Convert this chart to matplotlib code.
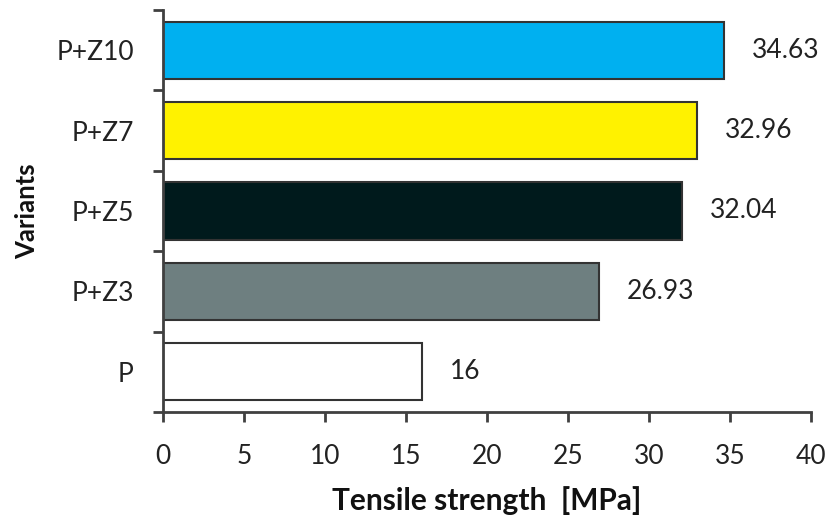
import matplotlib.pyplot as plt

# data
variants = ["P", "P+Z3", "P+Z5", "P+Z7", "P+Z10"]
strength = [16, 26.93, 32.04, 32.96, 34.63]
labels = ["16", "26.93", "32.04", "32.96", "34.63"]
colors = ["#FFFFFF", "#6E7F80", "#001A1C", "#FFF200", "#00B0F0"]

plt.rcParams['font.family'] = ['Lato', 'DejaVu Sans']

fig = plt.figure(figsize=(8.3, 5.23), dpi=100)
ax = fig.add_axes([0.1964, 0.2122, 0.7806, 0.7688])

y = range(len(variants))
ax.barh(y, strength, height=0.71, color=colors, edgecolor="#333333", linewidth=1.5)

for yi, v, lab in zip(y, strength, labels):
    ax.annotate(lab, (v, yi), xytext=(20, 0), textcoords="offset points",
                ha="left", va="center", fontsize=19, color="#222222")

ax.set_xlim(0, 40)
ax.set_ylim(-0.5, 4.5)
ax.set_xticks(range(0, 41, 5))
ax.set_yticks(list(y))
ax.set_yticklabels(variants)
ax.set_yticks([i - 0.5 for i in range(len(variants) + 1)], minor=True)
ax.tick_params(axis="y", which="major", length=0, pad=21, labelsize=19, labelcolor="#222222")
ax.tick_params(axis="y", which="minor", length=7, width=2, color="#404040")
ax.tick_params(axis="x", length=7, width=2, color="#404040", pad=16, labelsize=19, labelcolor="#222222")

for s in ["top", "right"]:
    ax.spines[s].set_visible(False)
for s in ["left", "bottom"]:
    ax.spines[s].set_color("#404040")
    ax.spines[s].set_linewidth(2)

ax.set_xlabel("Tensile strength  [MPa]", fontsize=21.5, fontweight="bold", labelpad=12, color="#111111")
ax.set_ylabel("Variants", fontsize=18.5, fontweight="bold", labelpad=12, color="#111111")

fig.savefig("out.png", dpi=100)
